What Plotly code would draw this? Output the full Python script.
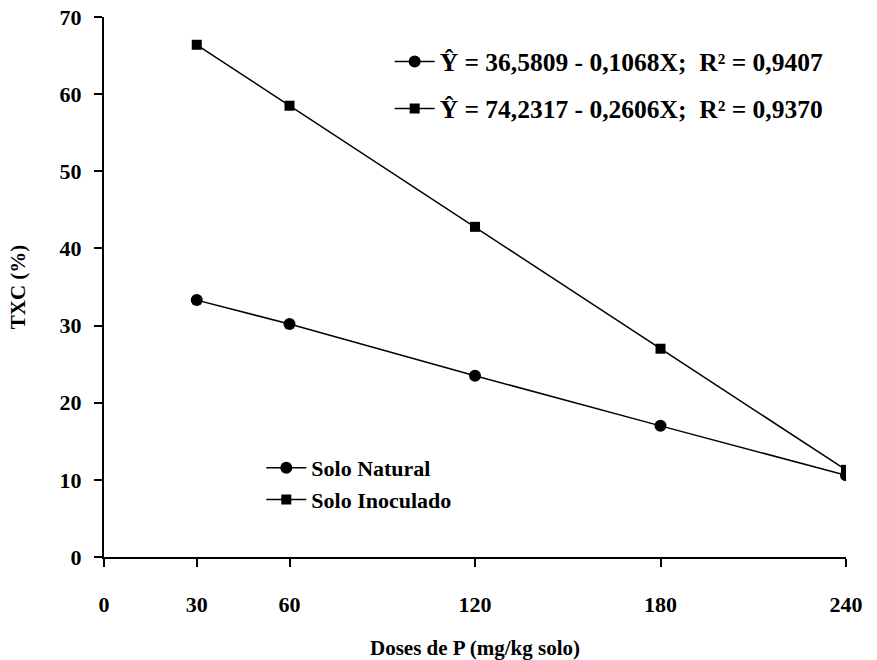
import plotly.graph_objects as go

doses = [30, 60, 120, 180, 240]
solo_natural = [33.3, 30.2, 23.5, 17.0, 10.6]
solo_inoculado = [66.4, 58.5, 42.8, 27.0, 11.3]
x_ticks = [0, 30, 60, 120, 180, 240]
y_ticks = [0, 10, 20, 30, 40, 50, 60, 70]
eq_natural = "Ŷ = 36,5809 - 0,1068X;  R² = 0,9407"
eq_inoculado = "Ŷ = 74,2317 - 0,2606X;  R² = 0,9370"

FONT = "Liberation Serif"
fig = go.Figure()

line_style = dict(color="black", width=1.5)
fig.add_trace(go.Scatter(x=doses, y=solo_natural, mode="lines+markers", name="<b>Solo Natural</b>",
                         line=line_style, marker=dict(symbol="circle", size=12, color="black"),
                         legend="legend3", showlegend=True))
fig.add_trace(go.Scatter(x=doses, y=solo_inoculado, mode="lines+markers", name="<b>Solo Inoculado</b>",
                         line=line_style, marker=dict(symbol="square", size=10, color="black"),
                         legend="legend4", showlegend=True))
fig.add_trace(go.Scatter(x=[None], y=[None], mode="lines+markers", name="<b>" + eq_natural + "</b>",
                         line=line_style, marker=dict(symbol="circle", size=12, color="black"),
                         legend="legend", showlegend=True))
fig.add_trace(go.Scatter(x=[None], y=[None], mode="lines+markers", name="<b>" + eq_inoculado + "</b>",
                         line=line_style, marker=dict(symbol="square", size=10, color="black"),
                         legend="legend2", showlegend=True))

def leg(x, y, size):
    return dict(x=x, y=y, xanchor="left", yanchor="middle", bgcolor="rgba(0,0,0,0)",
                font=dict(family=FONT, size=size, color="black"), itemwidth=40, visible=True)

fig.update_layout(
    width=877, height=660,
    showlegend=True,
    margin=dict(l=104, r=31, t=17, b=103, autoexpand=False),
    plot_bgcolor="white", paper_bgcolor="white",
    font=dict(family=FONT, color="black"),
    legend=leg(0.385, 0.917, 25.5),
    legend2=leg(0.385, 0.830, 25.5),
    legend3=leg(0.212, 0.165, 22),
    legend4=leg(0.212, 0.106, 22),
    xaxis=dict(range=[0, 240], tickvals=x_ticks, ticktext=[f"<b>{v}</b>" for v in x_ticks],
               automargin=False,
               showgrid=False, zeroline=False, showline=True, linecolor="black", linewidth=2,
               ticks="outside", ticklen=8, tickcolor="black", tickwidth=1.5,
               ticklabelstandoff=19, tickfont=dict(family=FONT, size=22, color="black"),
               title=dict(text="<b>Doses de P (mg/kg solo)</b>", font=dict(family=FONT, size=21, color="black"), standoff=24)),
    yaxis=dict(range=[0, 70], tickvals=y_ticks, ticktext=[f"<b>{v}</b>" for v in y_ticks],
               automargin=False,
               showgrid=False, zeroline=False, showline=True, linecolor="black", linewidth=2,
               ticks="outside", ticklen=8, tickcolor="black", tickwidth=1.5,
               ticklabelstandoff=8, tickfont=dict(family=FONT, size=22, color="black"),
               title=dict(text="<b>TXC (%)</b>", font=dict(family=FONT, size=21, color="black"), standoff=28)),
)

fig.write_html("out.html")
